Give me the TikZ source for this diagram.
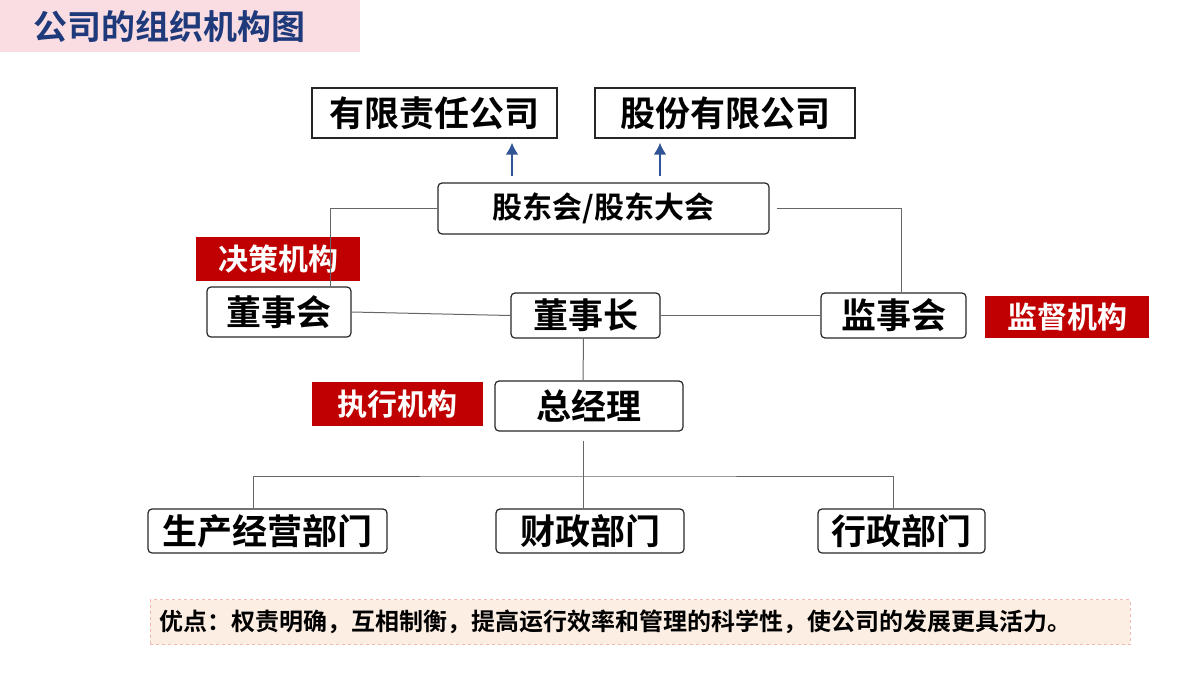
\documentclass[tikz,border=0pt]{standalone}
\usepackage{fontspec}
\newfontfamily\cjk{Noto Sans CJK SC}[BoldFont={Noto Sans CJK SC Bold}]
\usetikzlibrary{positioning,arrows.meta}
\definecolor{darkred}{HTML}{C00000}
\definecolor{titlepink}{HTML}{F9DDE3}
\definecolor{titleblue}{HTML}{1F3A7A}
\definecolor{arrowblue}{HTML}{2F5597}
\definecolor{notefill}{HTML}{FDEEE4}
\definecolor{noteline}{HTML}{F4B6B0}
\tikzset{
  orgbox/.style={draw=black!85, line width=1.2pt, rounded corners=4pt, font=\cjk\bfseries\fontsize{35}{35}\selectfont, inner sep=0pt},
  topbox/.style={draw=black!85, line width=1.2pt, font=\cjk\bfseries\fontsize{35}{35}\selectfont, inner sep=0pt},
  redtag/.style={fill=darkred, text=white, font=\cjk\bfseries\fontsize{30}{30}\selectfont, inner sep=0pt},
  link/.style={draw=black!60, line width=1pt},
  uparrow/.style={-{Latex[length=12pt,width=13pt]}, arrowblue, line width=2.5pt}
}
\begin{document}
\begin{tikzpicture}[x=1pt,y=-1pt]
\useasboundingbox (0,0) rectangle (1200,675);
% title
\node[fill=titlepink, minimum width=360pt, minimum height=52pt, inner sep=0pt] (title) at (180,26) {};
\node[text=titleblue, font=\cjk\bfseries\fontsize{34}{34}\selectfont, anchor=west] (titletext) at (30,27) {公司的组织机构图};

% top row
\node[topbox, minimum width=245pt, minimum height=50pt] (ltd) at (434.5,113) {有限责任公司};
\node[topbox, minimum width=260pt, minimum height=50pt] (plc) at (725,113) {股份有限公司};
\node[orgbox, minimum width=331pt, minimum height=51pt, font=\cjk\bfseries\fontsize{30}{30}\selectfont] (meeting) at (603.5,208.5) {股东会/股东大会};
\coordinate (ltdarr) at (512,176);
\coordinate (plcarr) at (660,176);
\draw[uparrow] (ltdarr) -- ([yshift=-4pt]ltdarr |- ltd.south);
\draw[uparrow] (plcarr) -- ([yshift=-4pt]plcarr |- plc.south);

% middle row
\node[orgbox, minimum width=144pt, minimum height=50pt] (board) at (279,312) {董事会};
\node[orgbox, minimum width=149pt, minimum height=45pt] (chair) at (585.5,315.5) {董事长};
\node[orgbox, minimum width=145pt, minimum height=45pt] (super) at (893.5,315.5) {监事会};
\node[orgbox, minimum width=188pt, minimum height=50pt] (gm) at (589,406) {总经理};

\node[redtag, minimum width=164pt, minimum height=44pt] (decide) at (278,259) {决策机构};
\node[redtag, minimum width=164pt, minimum height=42pt] (monitor) at (1067,317) {监督机构};
\node[redtag, minimum width=171pt, minimum height=44pt] (execute) at (397.5,404) {执行机构};

% bottom row
\node[orgbox, minimum width=239pt, minimum height=44pt] (prod) at (267.5,531) {生产经营部门};
\node[orgbox, minimum width=188pt, minimum height=44pt] (fin) at (590,531) {财政部门};
\node[orgbox, minimum width=167pt, minimum height=44pt] (admin) at (901.5,531) {行政部门};

% connectors
\draw[link] (meeting.west) -| ([xshift=51pt]board.north);
\draw[link] ([xshift=7pt]meeting.east) -| ([xshift=8pt]super.north);
\draw[link] (board.east) -- (chair.west);
\draw[link] (chair.east) -- (super.west);
\draw[link] ([xshift=-2pt]chair.south) -- ([xshift=-6pt]gm.north);
\coordinate (split) at (583,476);
\draw[link] ([xshift=-6pt]gm.south) ++(0,9) -- (split);
\draw[link] ([xshift=-14pt]prod.north) |- (split) -| ([xshift=-8pt]admin.north);
\draw[link] (split) -- (split |- fin.north);

% note
\node[fill=notefill, draw=noteline, dashed, minimum width=980pt, minimum height=45pt, inner sep=0pt] (note) at (640,622) {};
\node[anchor=west, font=\cjk\bfseries\fontsize{24}{24}\selectfont] (notetext) at (156,622) {优点：权责明确，互相制衡，提高运行效率和管理的科学性，使公司的发展更具活力。};
\end{tikzpicture}
\end{document}
